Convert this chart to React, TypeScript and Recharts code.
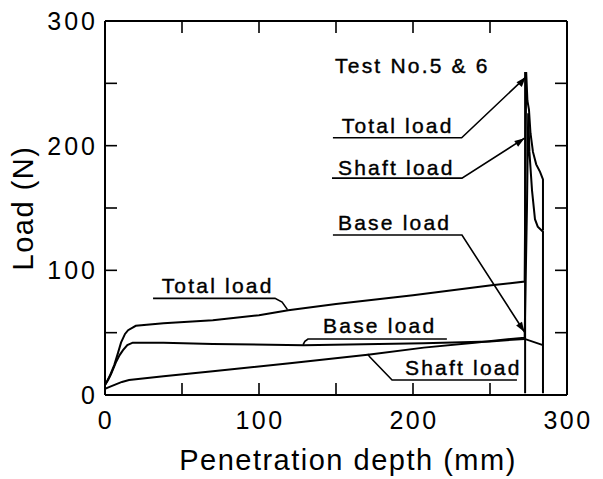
import { Line, LineChart, ReferenceDot, XAxis, YAxis } from "recharts";

const axisTicks = [0, 50, 100, 150, 200, 250, 300];
const labelledTicks = [0, 100, 200, 300];

// measured curves, penetration depth (mm) vs load (N)
const totalLoad = [
  { x: 0, y: 8 }, { x: 3, y: 15 }, { x: 6, y: 24 }, { x: 8.5, y: 34 },
  { x: 10.4, y: 42 }, { x: 13, y: 49 }, { x: 15, y: 52 }, { x: 20, y: 55.5 },
  { x: 38, y: 57.5 }, { x: 70, y: 60 }, { x: 100, y: 64 }, { x: 119, y: 68 },
  { x: 150, y: 73 }, { x: 200, y: 80 }, { x: 251, y: 88 }, { x: 272.5, y: 91 },
  { x: 273.5, y: 259 }, { x: 274.3, y: 236 }, { x: 275.3, y: 229 },
  { x: 276.3, y: 210 }, { x: 277.9, y: 195 }, { x: 280, y: 185 },
  { x: 282.5, y: 179 }, { x: 284.4, y: 173 }, { x: 284.4, y: 132 },
];

const shaftLoad = [
  { x: 0, y: 5 }, { x: 3, y: 6.5 }, { x: 7, y: 8.5 }, { x: 11, y: 10.5 },
  { x: 15.6, y: 12 }, { x: 38, y: 15 }, { x: 70, y: 19 }, { x: 120, y: 25.5 },
  { x: 172, y: 32.5 }, { x: 207, y: 38 }, { x: 240, y: 42 }, { x: 272.5, y: 46 },
  { x: 274, y: 150 }, { x: 274.8, y: 226 }, { x: 275.6, y: 195 },
  { x: 277.3, y: 164 }, { x: 279.2, y: 141 }, { x: 281, y: 135 },
  { x: 284.4, y: 131 }, { x: 284.4, y: 1.5 },
];

const baseLoad = [
  { x: 0, y: 8 }, { x: 2, y: 12 }, { x: 4, y: 17 }, { x: 7, y: 26 },
  { x: 9.5, y: 32 }, { x: 11.7, y: 36 }, { x: 14.5, y: 40 }, { x: 18, y: 42 },
  { x: 38, y: 42 }, { x: 70, y: 41 }, { x: 129, y: 40 }, { x: 207, y: 41.5 },
  { x: 250, y: 43 }, { x: 272.5, y: 45 }, { x: 284.4, y: 40 },
];

const endLine = [
  { x: 272.8, y: 1.5 }, { x: 272.8, y: 259 },
];

// annotation leaders
const leaderTotalUpper = [
  { x: 148, y: 206.3 }, { x: 231.6, y: 206.3 }, { x: 273.2, y: 255 },
];
const leaderShaftUpper = [
  { x: 147.4, y: 174 }, { x: 231.8, y: 174 }, { x: 272.4, y: 206 },
];
const leaderBaseUpper = [
  { x: 148, y: 128.3 }, { x: 231.8, y: 128.3 }, { x: 272.4, y: 50.5 },
];
const leaderTotalLower = [
  { x: 31.2, y: 77.5 }, { x: 110.4, y: 77.5 }, { x: 115, y: 74.5 }, { x: 118.5, y: 68.5 },
];
const leaderBaseLower = [
  { x: 222, y: 44.9 }, { x: 131.8, y: 44.9 }, { x: 129.8, y: 43 }, { x: 128.6, y: 40.3 },
];
const leaderShaftLower = [
  { x: 267.5, y: 12 }, { x: 186.4, y: 12 }, { x: 172, y: 30.5 }, { x: 170.5, y: 32.8 },
];

const annotations = [
  { text: "Test No.5 & 6", x: 149.4, y: 258 },
  { text: "Total load", x: 153.7, y: 210 },
  { text: "Shaft load", x: 151.3, y: 176.4 },
  { text: "Base load", x: 151.3, y: 132.3 },
  { text: "Total load", x: 36.8, y: 81.6 },
  { text: "Base load", x: 141.6, y: 49.7 },
  { text: "Shaft load", x: 194.8, y: 16 },
];

const font = "'Liberation Sans', Arial, Helvetica, sans-serif";

function BottomTick({ x, y, payload }: any) {
  const v = payload.value;
  return (
    <g>
      <line x1={x} y1={y} x2={x} y2={y - 12} stroke="#000" strokeWidth={1.6} />
      {labelledTicks.includes(v) && (
        <text x={x + 1} y={y + 34} textAnchor="middle" fontSize={25} letterSpacing={2.5} fontFamily={font} fill="#000">
          {v}
        </text>
      )}
    </g>
  );
}

function TopTick({ x, y }: any) {
  return <line x1={x} y1={y} x2={x} y2={y + 12} stroke="#000" strokeWidth={1.6} />;
}

function LeftTick({ x, y, payload }: any) {
  const v = payload.value;
  return (
    <g>
      <line x1={x} y1={y} x2={x + 12} y2={y} stroke="#000" strokeWidth={1.6} />
      {labelledTicks.includes(v) && (
        <text x={x - 7} y={y} dy="0.36em" textAnchor="end" fontSize={25} letterSpacing={3} fontFamily={font} fill="#000">
          {v}
        </text>
      )}
    </g>
  );
}

function RightTick({ x, y }: any) {
  return <line x1={x} y1={y} x2={x - 12} y2={y} stroke="#000" strokeWidth={1.6} />;
}

function arrowDot(count: number, angle: number) {
  return (p: any) => {
    if (p.index !== count - 1) return <g key={p.index} />;
    return (
      <polygon
        key={p.index}
        points="0,0 -10,-3.5 -10,3.5"
        fill="#000"
        transform={`translate(${p.cx},${p.cy}) rotate(${angle})`}
      />
    );
  };
}

function annotationLabel(text: string) {
  return (p: any) => (
    <text
      x={p.viewBox.x}
      y={p.viewBox.y}
      fontSize={21}
      letterSpacing={2.2}
      fontFamily={font}
      fill="#000"
      stroke="#000"
      strokeWidth={0.4}
    >
      {text}
    </text>
  );
}

export default function App() {
  const lineProps = {
    dataKey: "y",
    stroke: "#000",
    dot: false,
    isAnimationActive: false,
    type: "linear" as const,
  };
  return (
    <LineChart width={595} height={471} margin={{ top: 12, right: 35, bottom: 0, left: 0 }}>
      <XAxis
        xAxisId={0}
        type="number"
        dataKey="x"
        domain={[0, 300]}
        ticks={axisTicks}
        allowDataOverflow
        height={84}
        tickSize={0}
        tickMargin={0}
        tickLine={false}
        axisLine={{ stroke: "#000", strokeWidth: 2 }}
        tick={BottomTick}
        label={{
          content: (p: any) => (
            <text
              x={p.viewBox.x + p.viewBox.width / 2 + 12}
              y={p.viewBox.y + 75}
              textAnchor="middle"
              fontSize={29}
              letterSpacing={1.5}
              fontFamily={font}
              fill="#000"
            >
              Penetration depth (mm)
            </text>
          ),
        }}
      />
      <XAxis
        xAxisId="top"
        orientation="top"
        type="number"
        dataKey="x"
        domain={[0, 300]}
        ticks={axisTicks}
        allowDataOverflow
        height={1}
        tickSize={0}
        tickMargin={0}
        tickLine={false}
        axisLine={{ stroke: "#000", strokeWidth: 2 }}
        tick={TopTick}
      />
      <YAxis
        yAxisId={0}
        type="number"
        domain={[0, 300]}
        ticks={axisTicks}
        allowDataOverflow
        width={97}
        tickSize={0}
        tickMargin={0}
        tickLine={false}
        axisLine={{ stroke: "#000", strokeWidth: 2 }}
        tick={LeftTick}
        label={{
          content: (p: any) => {
            const cx = p.viewBox.x + 15;
            const cy = p.viewBox.y + p.viewBox.height / 2;
            return (
              <text
                x={cx}
                y={cy}
                dy="0.36em"
                textAnchor="middle"
                transform={`rotate(-90, ${cx}, ${cy})`}
                fontSize={29}
                letterSpacing={1.5}
                fontFamily={font}
                fill="#000"
              >
                Load (N)
              </text>
            );
          },
        }}
      />
      <YAxis
        yAxisId="right"
        orientation="right"
        type="number"
        domain={[0, 300]}
        ticks={axisTicks}
        allowDataOverflow
        width={1}
        tickSize={0}
        tickMargin={0}
        tickLine={false}
        axisLine={{ stroke: "#000", strokeWidth: 2 }}
        tick={RightTick}
      />

      <Line {...lineProps} data={totalLoad} strokeWidth={2} />
      <Line {...lineProps} data={shaftLoad} strokeWidth={2} />
      <Line {...lineProps} data={baseLoad} strokeWidth={2} />
      <Line {...lineProps} data={endLine} strokeWidth={2} />

      <Line {...lineProps} data={leaderTotalUpper} strokeWidth={1.6} dot={arrowDot(leaderTotalUpper.length, -49)} />
      <Line {...lineProps} data={leaderShaftUpper} strokeWidth={1.6} dot={arrowDot(leaderShaftUpper.length, -34)} />
      <Line {...lineProps} data={leaderBaseUpper} strokeWidth={1.6} dot={arrowDot(leaderBaseUpper.length, 57)} />
      <Line {...lineProps} data={leaderTotalLower} strokeWidth={1.6} />
      <Line {...lineProps} data={leaderBaseLower} strokeWidth={1.6} />
      <Line {...lineProps} data={leaderShaftLower} strokeWidth={1.6} />

      {annotations.map((a, i) => (
        <ReferenceDot
          key={i}
          x={a.x}
          y={a.y}
          r={0}
          fill="none"
          stroke="none"
          label={{ content: annotationLabel(a.text) }}
        />
      ))}
    </LineChart>
  );
}
